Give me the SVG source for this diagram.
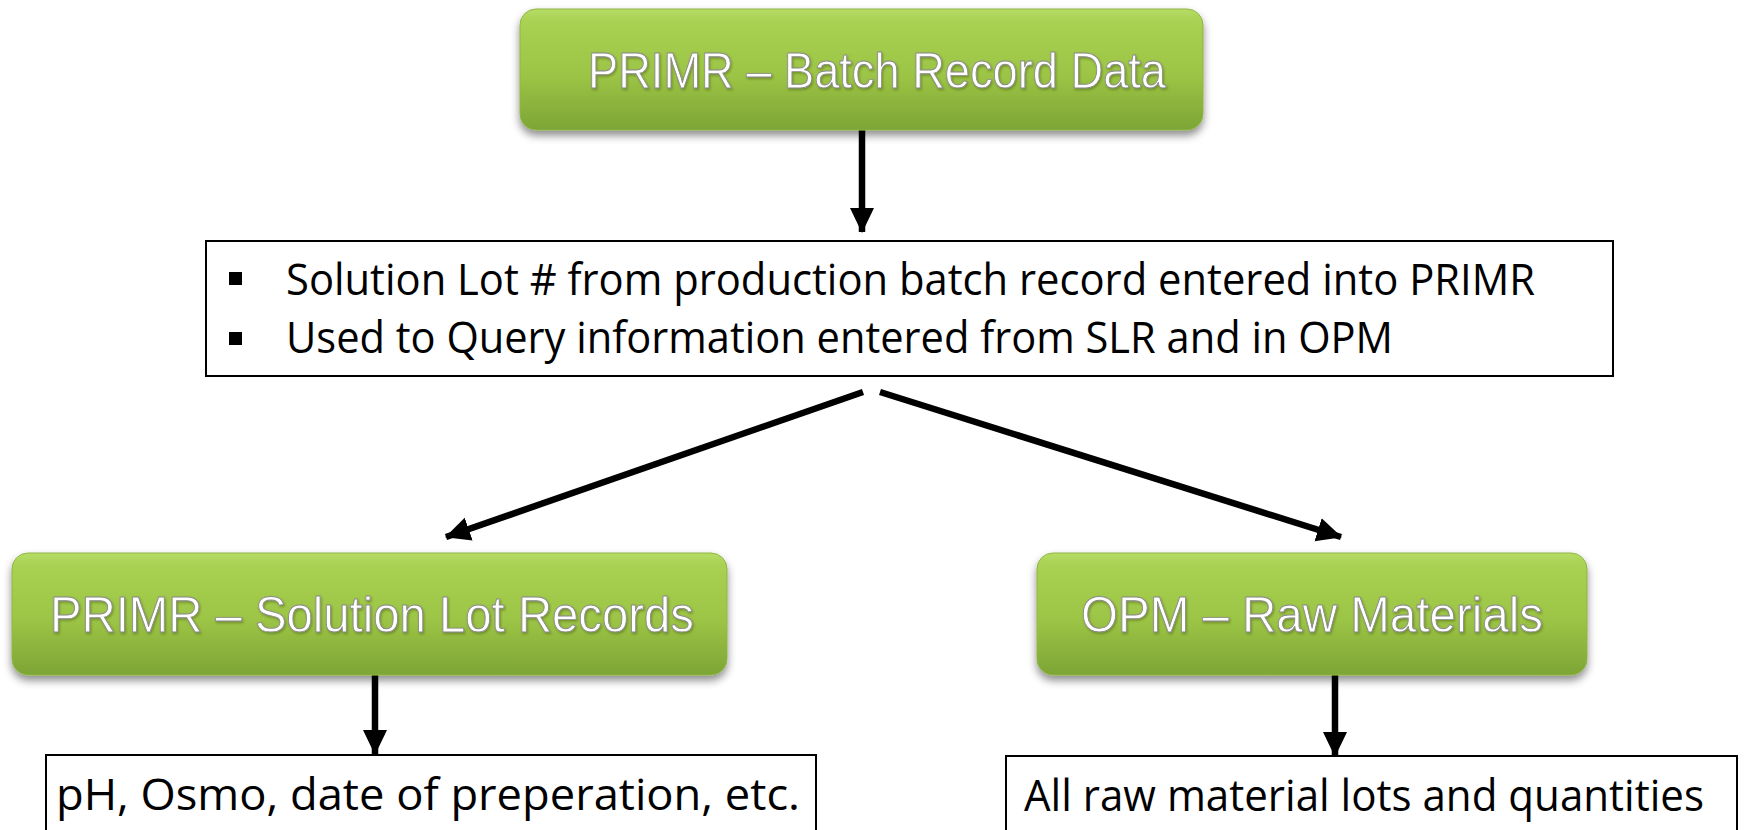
<svg xmlns="http://www.w3.org/2000/svg" width="1747" height="830" viewBox="0 0 1747 830">
  <defs>
    <linearGradient id="green" x1="0" y1="0" x2="0" y2="1">
      <stop offset="0" stop-color="#b6dc66"/>
      <stop offset="0.1" stop-color="#a9d152"/>
      <stop offset="0.55" stop-color="#9cc445"/>
      <stop offset="1" stop-color="#7da536"/>
    </linearGradient>
    <filter id="shadow" x="-10%" y="-20%" width="120%" height="150%">
      <feDropShadow dx="0" dy="5" stdDeviation="4" flood-color="#000" flood-opacity="0.45"/>
    </filter>
    <filter id="tshadow" x="-5%" y="-20%" width="110%" height="150%">
      <feDropShadow dx="1" dy="1.5" stdDeviation="0.8" flood-color="#3a4d10" flood-opacity="0.45"/>
    </filter>
    <marker id="arrow" markerUnits="userSpaceOnUse" markerWidth="26" markerHeight="26" viewBox="0 0 26 26" refX="24" refY="13" orient="auto">
      <path d="M0,1 L25,13 L0,25 Z" fill="#000"/>
    </marker>
  </defs>
  <style>
    .gbox { fill: url(#green); stroke: #8fb545; stroke-width: 1; filter: url(#shadow); }
    .gtext { font-family: "Liberation Sans", Arial, sans-serif; font-size: 50px; fill: #ffffff; stroke: #8a8a8a; stroke-width: 0.9; text-anchor: middle; filter: url(#tshadow); }
    .wbox { fill: #ffffff; stroke: #000; stroke-width: 2; }
    .btext { font-family: "Open Sans", "Noto Sans", sans-serif; font-size: 44px; fill: #000; }
    .conn { stroke: #000; stroke-width: 6.5; fill: none; marker-end: url(#arrow); }
  </style>
  <rect width="1747" height="830" fill="#ffffff"/>

  <g id="connectors">
    <line class="conn" x1="862" y1="130" x2="862" y2="232"/>
    <line class="conn" x1="863" y1="392" x2="446" y2="537"/>
    <line class="conn" x1="880" y1="392" x2="1341" y2="537"/>
    <line class="conn" x1="375" y1="675" x2="375" y2="754"/>
    <line class="conn" x1="1335" y1="675" x2="1335" y2="756"/>
  </g>

  <g id="node-batch-record">
    <rect class="gbox" x="520" y="9" width="683" height="121" rx="16"/>
    <text class="gtext" x="877" y="88" textLength="578" lengthAdjust="spacingAndGlyphs">PRIMR – Batch Record Data</text>
  </g>

  <g id="node-solution-lot-info">
    <rect class="wbox" x="206" y="241" width="1407" height="135"/>
    <rect x="229" y="272" width="13" height="13" fill="#000"/>
    <rect x="229" y="332" width="13" height="13" fill="#000"/>
    <text class="btext" x="286" y="295" textLength="1249" lengthAdjust="spacingAndGlyphs">Solution Lot # from production batch record entered into PRIMR</text>
    <text class="btext" x="286" y="353" textLength="1107" lengthAdjust="spacingAndGlyphs">Used to Query information entered from SLR and in OPM</text>
  </g>

  <g id="node-solution-lot-records">
    <rect class="gbox" x="12" y="553" width="715" height="122" rx="16"/>
    <text class="gtext" x="372" y="632" textLength="644" lengthAdjust="spacingAndGlyphs">PRIMR – Solution Lot Records</text>
  </g>

  <g id="node-raw-materials">
    <rect class="gbox" x="1037" y="553" width="550" height="122" rx="16"/>
    <text class="gtext" x="1312" y="632" textLength="462" lengthAdjust="spacingAndGlyphs">OPM – Raw Materials</text>
  </g>

  <g id="node-ph-osmo">
    <rect class="wbox" x="46" y="755" width="770" height="90"/>
    <text class="btext" x="56" y="810" textLength="744" lengthAdjust="spacingAndGlyphs">pH, Osmo, date of preperation, etc.</text>
  </g>

  <g id="node-raw-lots">
    <rect class="wbox" x="1006" y="756" width="731" height="90"/>
    <text class="btext" x="1024" y="811" textLength="680" lengthAdjust="spacingAndGlyphs">All raw material lots and quantities</text>
  </g>
</svg>
